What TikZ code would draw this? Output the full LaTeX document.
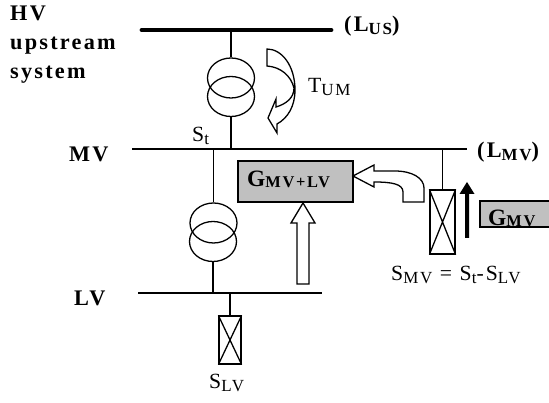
\documentclass[tikz,border=0pt]{standalone}
\usepackage{fontspec}
\setmainfont[LetterSpace=10]{Liberation Serif}
\usetikzlibrary{positioning, calc, shapes.geometric}
\definecolor{boxgray}{RGB}{192,192,192}
\newcommand{\lowsub}[1]{\raisebox{-0.08cm}{\fontsize{14.5}{14.5}\selectfont #1}}
\newcommand{\lowbig}[1]{\raisebox{-0.03cm}{\fontsize{14}{14}\selectfont #1}}
\tikzset{
  wire/.style={line width=1.1pt},
  coil/.style={draw,line width=1.1pt,ellipse,minimum width=1.41cm,minimum height=1.2cm,inner sep=0pt},
  lab/.style={inner sep=0pt,anchor=base west,font=\fontsize{18.5}{18.5}\selectfont},
  blab/.style={lab,font=\fontsize{19}{19}\selectfont\bfseries},
  glab/.style={lab,font=\fontsize{20}{20}\selectfont\bfseries},
  blockarrow/.style={draw,line width=1.1pt,fill=white,line join=miter},
  brk/.style={draw,line width=1.1pt,inner sep=0pt}
}
\begin{document}
\begin{tikzpicture}[x=0.03cm,y=-0.03cm]
  \useasboundingbox (0,0) rectangle (549,403);
  % buses
  \coordinate (usL) at (142,30);
  \coordinate (usR) at (331,30);
  \coordinate (mvL) at (132,149);
  \coordinate (mvR) at (467,149);
  \coordinate (lvL) at (138,293);
  \coordinate (lvR) at (322,293);
  \draw[line width=4.2pt,line cap=round] (usL) -- (usR);
  \draw[line width=1.8pt] (mvL) -- (mvR);
  \draw[line width=1.2pt] (lvL) -- (lvR);
  % upper transformer
  \node[coil] (tuA) at (231,78) {};
  \node[coil] (tuB) at (231,96.5) {};
  \draw[wire] (tuA.north) -- (tuA.north |- usL);
  \draw[wire] (tuB.south) -- (tuB.south |- mvL);
  % lower transformer
  \node[coil] (tlA) at (213.5,223) {};
  \node[coil] (tlB) at (213,241.5) {};
  \draw[wire] (tlA.north) -- (tlA.north |- mvL);
  \draw[wire] (tlB.south) -- (tlB.south |- lvL);
  % breakers
  \node[brk,minimum width=0.66cm,minimum height=1.44cm] (brkLV) at (230,340) {};
  \draw[wire] (brkLV.north west) -- (brkLV.south east) (brkLV.north east) -- (brkLV.south west);
  \draw[wire] (brkLV.north) -- (brkLV.north |- lvL);
  \node[brk,minimum width=0.75cm,minimum height=1.92cm] (brkMV) at (442.5,222) {};
  \draw[wire] (brkMV.north west) -- (brkMV.south east) (brkMV.north east) -- (brkMV.south west);
  \draw[wire] (brkMV.north) -- (brkMV.north |- mvL);
  % gray boxes
  \node[draw,line width=1.1pt,fill=boxgray,minimum width=3.45cm,minimum height=1.23cm,inner sep=0pt] (gmvlv) at (295.5,181.5) {};
  \node[glab] (tgmvlv) at (247,187) {G\lowbig{MV+LV}};
  \begin{scope}
    \clip (480,201) rectangle (549,227);
    \fill[boxgray] (480,201) rectangle (549,227);
    \node[glab] (tgmv) at (488,226) {G\lowbig{MV}};
  \end{scope}
  \draw[line width=1.1pt] (549,201) -- (480,201) -- (480,227) -- (549,227);
  % block arrows
  \draw[blockarrow] (303,203) -- (315,223) -- (309,223) -- (309,284) -- (297,284) -- (297,223) -- (291,223) -- cycle;
  \draw[blockarrow] (353,176) -- (374,165) -- (374,171) -- (395,171)
    .. controls (412,171) and (424,178) .. (424,188) -- (424,202) -- (403,202) -- (403,192)
    .. controls (403,184) and (392,182) .. (374,182) -- (374,187) -- cycle;
  \draw[blockarrow] (267,49) .. controls (282,49) and (295,66) .. (295,90)
    .. controls (295,106) and (288,118) .. (277,124) -- (277,133) -- (268,118) -- (276,99) -- (276,107)
    .. controls (286,104) and (294,98) .. (294,88) .. controls (291,76) and (281,67) .. (267,66) -- cycle;
  % solid arrow
  \fill (467,182) -- (474.5,194) -- (469,194) -- (469,238) -- (465,238) -- (465,194) -- (459.5,194) -- cycle;
  % labels
  \node[blab] (hv) at (10,21) {HV};
  \node[blab] (upstream) at (10,50) {upstream};
  \node[blab] (system) at (10,79) {system};
  \node[blab] (mv) at (69,162) {MV};
  \node[blab] (lv) at (74,306) {LV};
  \node[blab] (lus) at (344,32) {(L\lowsub{US})};
  \node[blab] (lmv) at (477,158) {(L\lowsub{MV})};
  \node[lab] (tum) at (308,93) {T\lowsub{UM}};
  \node[lab] (st) at (192,142) {S\lowsub{t}};
  \node[lab] (slv) at (209,389) {S\lowsub{LV}};
  \node[lab] (smv) at (391,281) {S\lowsub{MV} = S\lowsub{t}-S\lowsub{LV}};
\end{tikzpicture}
\end{document}
